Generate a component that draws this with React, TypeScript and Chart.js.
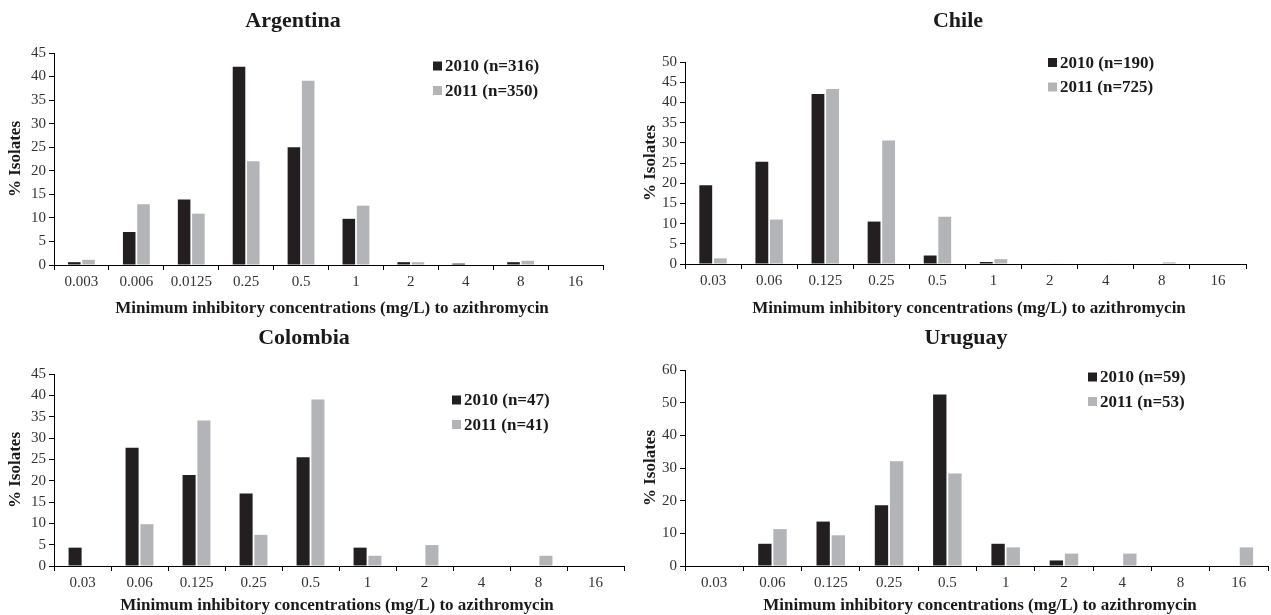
import React, { useEffect, useRef } from "react";
import { Chart, registerables } from "chart.js";

Chart.register(...registerables);

const argentinaMic = ["0.003", "0.006", "0.0125", "0.25", "0.5", "1", "2", "4", "8", "16"];
const otherMic = ["0.03", "0.06", "0.125", "0.25", "0.5", "1", "2", "4", "8", "16"];

const argentina2010 = [0.6, 7.0, 13.9, 42.1, 25.0, 9.8, 0.6, 0.3, 0.6, 0];
const argentina2011 = [1.1, 12.9, 10.9, 22.0, 39.1, 12.6, 0.6, 0, 0.9, 0];
const chile2010 = [19.5, 25.3, 42.1, 10.5, 2.1, 0.5, 0, 0, 0, 0];
const chile2011 = [1.4, 11.0, 43.3, 30.6, 11.7, 1.2, 0.1, 0.1, 0.4, 0];
const colombia2010 = [4.3, 27.7, 21.3, 17.0, 25.5, 4.3, 0, 0, 0, 0];
const colombia2011 = [0, 9.8, 34.1, 7.3, 39.0, 2.4, 4.9, 0, 2.4, 0];
const uruguay2010 = [0, 6.8, 13.6, 18.6, 52.5, 6.8, 1.7, 0, 0, 0];
const uruguay2011 = [0, 11.3, 9.4, 32.1, 28.3, 5.7, 3.8, 3.8, 0, 5.7];

const legend2010 = ["2010 (n=316)", "2010 (n=190)", "2010 (n=47)", "2010 (n=59)"];
const legend2011 = ["2011 (n=350)", "2011 (n=725)", "2011 (n=41)", "2011 (n=53)"];
const countries = ["Argentina", "Chile", "Colombia", "Uruguay"];
const yMaxes = [45, 50, 45, 60];
const ySteps = [5, 5, 5, 10];

const X_TITLE = "Minimum inhibitory concentrations (mg/L) to azithromycin";
const Y_TITLE = "% Isolates";
const DARK = "#231f20";
const GREY = "#b3b4b7";
const FONT = "'Liberation Serif', 'DejaVu Serif', serif";

type Panel = {
  title: string;
  cats: string[];
  a: number[];
  b: number[];
  la: string;
  lb: string;
  yMax: number;
  yStep: number;
  box: { x: number; y: number; w: number; h: number };
  area: { L: number; R: number; T: number; B: number };
  titlePos: [number, number];
  xTitlePos: [number, number];
  legendPos: [number, number];
};

const panels: Panel[] = [
  {
    title: countries[0], cats: argentinaMic, a: argentina2010, b: argentina2011,
    la: legend2010[0], lb: legend2011[0], yMax: yMaxes[0], yStep: ySteps[0],
    box: { x: 0, y: 0, w: 635, h: 318 },
    area: { L: 54, R: 603, T: 53, B: 265 },
    titlePos: [293, 21], xTitlePos: [332, 309], legendPos: [433, 66],
  },
  {
    title: countries[1], cats: otherMic, a: chile2010, b: chile2011,
    la: legend2010[1], lb: legend2011[1], yMax: yMaxes[1], yStep: ySteps[1],
    box: { x: 635, y: 0, w: 636, h: 318 },
    area: { L: 50, R: 611, T: 62, B: 264 },
    titlePos: [323, 21], xTitlePos: [334, 309], legendPos: [413, 62.5],
  },
  {
    title: countries[2], cats: otherMic, a: colombia2010, b: colombia2011,
    la: legend2010[2], lb: legend2011[2], yMax: yMaxes[2], yStep: ySteps[2],
    box: { x: 0, y: 318, w: 635, h: 297 },
    area: { L: 54, R: 624, T: 56, B: 248 },
    titlePos: [304, 20], xTitlePos: [337, 288], legendPos: [452, 82],
  },
  {
    title: countries[3], cats: otherMic, a: uruguay2010, b: uruguay2011,
    la: legend2010[3], lb: legend2011[3], yMax: yMaxes[3], yStep: ySteps[3],
    box: { x: 635, y: 318, w: 636, h: 297 },
    area: { L: 50, R: 633, T: 52, B: 248 },
    titlePos: [331, 20], xTitlePos: [345, 288], legendPos: [453, 59],
  },
];

function PanelChart({ p }: { p: Panel }) {
  const ref = useRef<HTMLCanvasElement | null>(null);
  useEffect(() => {
    if (!ref.current) return;
    const decor = {
      id: "decor",
      afterDraw(chart: any) {
        const ctx = chart.ctx;
        const ca = chart.chartArea;
        ctx.save();
        ctx.fillStyle = "#1a1a1a";
        ctx.textAlign = "center";
        ctx.textBaseline = "middle";
        ctx.font = `bold 22px ${FONT}`;
        ctx.fillText(p.title, p.titlePos[0], p.titlePos[1]);
        ctx.font = `bold 17px ${FONT}`;
        ctx.fillText(X_TITLE, p.xTitlePos[0], p.xTitlePos[1]);
        ctx.save();
        ctx.translate(16, (ca.top + ca.bottom) / 2);
        ctx.rotate(-Math.PI / 2);
        ctx.fillText(Y_TITLE, 0, 0);
        ctx.restore();
        const rows: [string, string][] = [[p.la, DARK], [p.lb, GREY]];
        ctx.textAlign = "left";
        rows.forEach(([label, color], i) => {
          const cy = p.legendPos[1] + i * 24.5;
          ctx.fillStyle = color;
          ctx.fillRect(p.legendPos[0], cy - 4.5, 9, 9);
          ctx.fillStyle = "#1a1a1a";
          ctx.font = `bold 17px ${FONT}`;
          ctx.fillText(label, p.legendPos[0] + 12, cy + 1);
        });
        ctx.restore();
      },
    };
    const chart = new Chart(ref.current, {
      type: "bar",
      data: {
        labels: p.cats,
        datasets: [
          { label: p.la, data: p.a, backgroundColor: DARK, categoryPercentage: 0.52, barPercentage: 0.88 },
          { label: p.lb, data: p.b, backgroundColor: GREY, categoryPercentage: 0.52, barPercentage: 0.88 },
        ],
      },
      options: {
        animation: false,
        responsive: false,
        maintainAspectRatio: false,
        layout: {
          padding: { top: p.area.T, left: 0, right: p.box.w - p.area.R, bottom: 0 },
        },
        plugins: {
          legend: { display: false },
          title: { display: false },
          tooltip: { enabled: false },
        },
        scales: {
          x: {
            grid: { display: true, drawOnChartArea: false, drawTicks: true, tickLength: 5, color: "#000", offset: true },
            border: { display: true, color: "#000", width: 1 },
            ticks: { color: "#333", font: { family: FONT, size: 15 }, padding: 3, maxRotation: 0, autoSkip: false },
            afterFit: (scale: any) => { scale.height = p.box.h - p.area.B; },
          },
          y: {
            min: 0,
            max: p.yMax,
            grid: { display: true, drawOnChartArea: false, drawTicks: true, tickLength: 5, color: "#000" },
            border: { display: true, color: "#000", width: 1 },
            ticks: { stepSize: p.yStep, color: "#333", font: { family: FONT, size: 15 }, padding: 3, autoSkip: false },
            afterFit: (scale: any) => { scale.width = p.area.L; },
          },
        },
      },
      plugins: [decor],
    });
    return () => chart.destroy();
  }, [p]);
  return (
    <canvas
      ref={ref}
      width={p.box.w}
      height={p.box.h}
      style={{ position: "absolute", left: p.box.x, top: p.box.y, width: p.box.w, height: p.box.h }}
    />
  );
}

export default function App() {
  return (
    <div style={{ position: "absolute", left: 0, top: 0, width: 1271, height: 615, background: "#fff" }}>
      {panels.map((p) => (
        <PanelChart key={p.title} p={p} />
      ))}
    </div>
  );
}
